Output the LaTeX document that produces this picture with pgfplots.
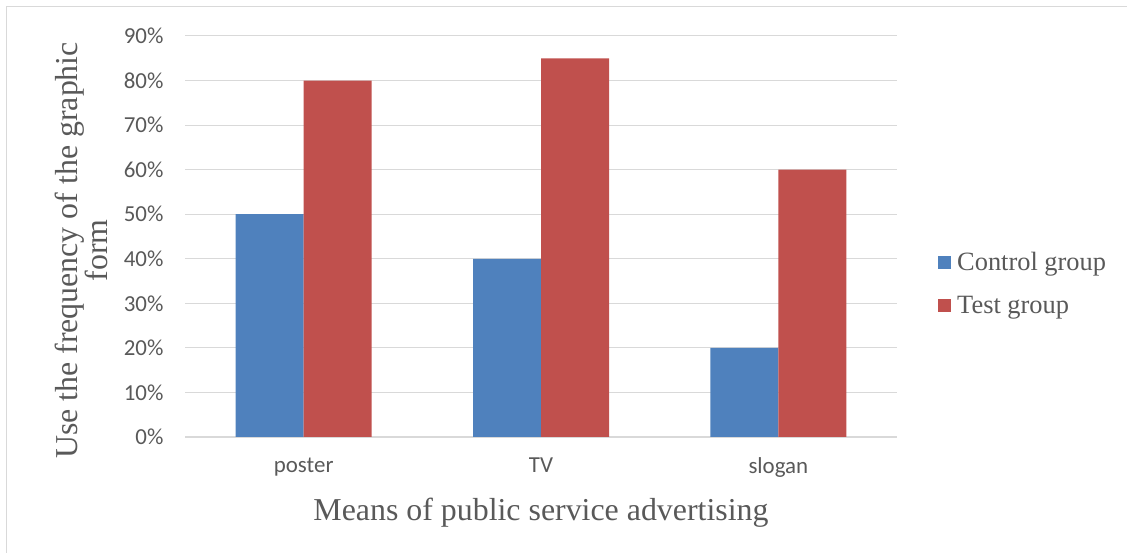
\documentclass[border=0pt]{standalone}
\usepackage{fontspec}
\setmainfont{Liberation Serif}
\newfontfamily\calibri{Carlito}
\usepackage{pgfplots}
\pgfplotsset{compat=1.18}
\definecolor{cblue}{HTML}{4F81BD}
\definecolor{cred}{HTML}{C0504D}
\definecolor{tgray}{HTML}{595959}
\definecolor{ggray}{HTML}{D9D9D9}
\definecolor{fgray}{HTML}{D9D9D9}
\begin{document}
\begin{tikzpicture}[x=1bp,y=1bp]
\useasboundingbox (0,0) rectangle (1127,553);
\draw[color=fgray, line width=1.5bp] (6.5,0) -- (6.5,546.5) -- (1127,546.5);
\begin{axis}[
  at={(185bp,116bp)}, anchor=south west,
  scale only axis, width=712bp, height=401bp,
  ybar=0pt, bar width=68bp,
  xmin=-0.5, xmax=2.5, ymin=0, ymax=90,
  xtick={0,1,2}, xticklabels={poster,TV,slogan},
  ytick={0,10,...,90},
  yticklabel={\pgfmathprintnumber{\tick}\%},
  axis x line*=bottom, axis y line*=left,
  y axis line style={draw=none},
  x axis line style={draw=ggray, line width=1.5bp, -},
  major tick length=0pt,
  ymajorgrids, grid style={ggray, line width=1bp},
  /pgf/number format/assume math mode=true,
  ticklabel style={font=\calibri\fontsize{23}{26}\selectfont, text=tgray},
  yticklabel style={xshift=-18bp},
  xticklabel style={yshift=-17bp},
  xlabel={Means of public service advertising},
  ylabel={Use the frequency of the graphic\\form},
  xlabel style={font=\fontsize{32}{32}\selectfont, text=tgray, at={(axis description cs:0.5,-0.19)}, anchor=center},
  ylabel style={font=\fontsize{32}{30}\selectfont, text=tgray, align=center, rotate=0, at={(axis description cs:-0.146,0.465)}, anchor=center},
  legend style={draw=none, fill=none, at={(axis description cs:1.0576,0.383)}, anchor=west,
    font=\fontsize{26.5}{28}\selectfont, text=tgray, row sep=20bp, column sep=4bp, inner sep=0pt,
    nodes={inner sep=2bp}},
  legend cell align=left,
  legend image code/.code={\fill[#1] (0bp,-6.5bp) rectangle (13bp,6.5bp);},
]
\addplot[fill=cblue, draw=none] coordinates {(0,50) (1,40) (2,20)};
\addplot[fill=cred, draw=none] coordinates {(0,80) (1,85) (2,60)};
\legend{Control group, Test group}
\end{axis}
\end{tikzpicture}
\end{document}
